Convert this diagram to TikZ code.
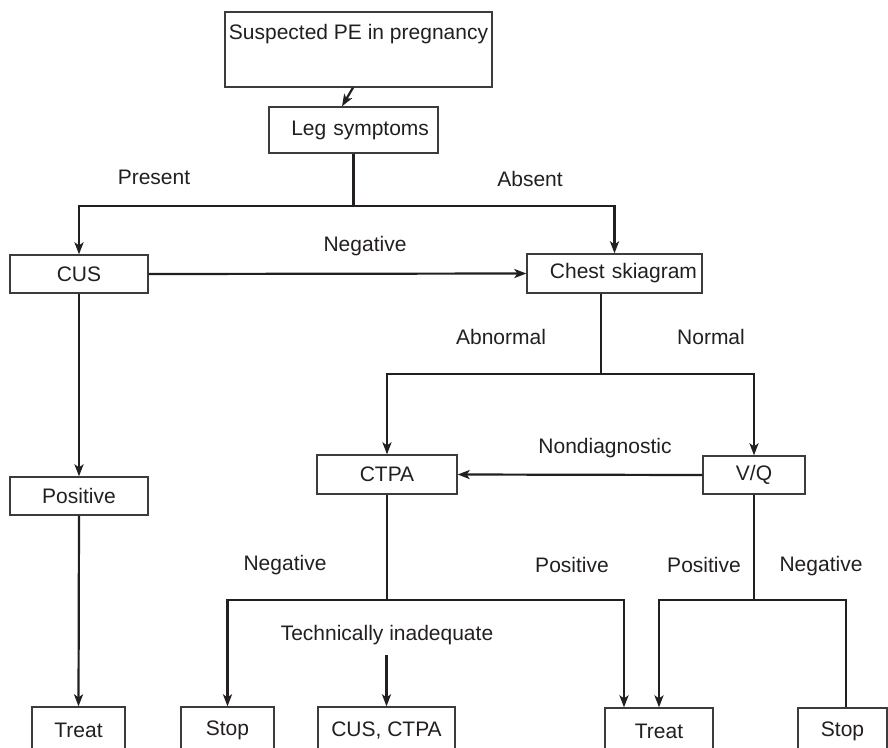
\documentclass[tikz,border=0pt]{standalone}
\usepackage{fontspec}
\setmainfont{Liberation Sans}
\usetikzlibrary{arrows.meta}
\definecolor{Ink}{RGB}{35,31,32}
\definecolor{Edge}{RGB}{60,60,60}

\begin{document}
\begin{tikzpicture}[x=1pt,y=-1pt,line cap=butt,line join=miter,
  box/.style={draw=Edge,line width=1.3pt,inner sep=0pt,text=Ink,font=\fontsize{21}{25}\selectfont},
  lbl/.style={inner sep=0pt,text=Ink,font=\fontsize{21}{25}\selectfont},
  link/.style={draw=Ink,line width=2.2pt},
  arr/.style={link,-{Stealth[length=12pt,width=9pt,inset=3pt]}}]
\useasboundingbox (0,0) rectangle (888,747);
\clip (0,0) rectangle (888,747);
\node[box,minimum width=267pt,text height=27pt,text depth=48pt] (suspect) at (358.5,49.5) {Suspected PE in pregnancy};
\node[box,minimum width=169pt,minimum height=46pt,text width=151pt,inner xsep=9pt,align=right] (leg) at (353.5,130) {Leg symptoms};
\node[box,minimum width=138pt,minimum height=38pt] (cus) at (79,274) {CUS};
\node[box,minimum width=175pt,minimum height=39pt,text width=165pt,inner xsep=5pt,align=right] (chest) at (614.5,273.5) {Chest skiagram};
\node[box,minimum width=140pt,minimum height=39pt] (ctpa) at (387,474.5) {CTPA};
\node[box,minimum width=102pt,minimum height=38pt] (vq) at (754,475) {V/Q};
\node[box,minimum width=138pt,minimum height=38pt] (pos) at (79,496) {Positive};
\node[box,minimum width=93pt,minimum height=46pt] (treatA) at (78.5,730) {Treat};
\node[box,minimum width=93pt,minimum height=46pt] (stopA) at (227.5,730) {Stop};
\node[box,minimum width=137pt,minimum height=46pt] (repeat) at (386.5,730) {CUS, CTPA};
\node[box,minimum width=108pt,minimum height=46pt] (treatB) at (659,731) {Treat};
\node[box,minimum width=89pt,minimum height=46pt] (stopB) at (842.5,731) {Stop};
\coordinate (splitLeg) at (353.5,206);
\coordinate (splitChest) at (601,374);
\coordinate (splitCtpa) at (387,600);
\coordinate (splitVq) at (754,600);
\coordinate (techTop) at (386.5,655);
\node[lbl] (present) at (154,177) {Present};
\node[lbl] (absent) at (530,179) {Absent};
\node[lbl] (negCus) at (365,246) {Negative};
\node[lbl] (abnormal) at (501,337) {Abnormal};
\node[lbl] (normal) at (711,337) {Normal};
\node[lbl] (nondiag) at (605,448) {Nondiagnostic};
\node[lbl] (negCtpa) at (285,565) {Negative};
\node[lbl] (posCtpa) at (572,565) {Positive};
\node[lbl] (posVq) at (704,565) {Positive};
\node[lbl] (negVq) at (821,566) {Negative};
\node[lbl] (tech) at (387,635) {Technically inadequate};
\draw[arr] ([xshift=-5.5pt]suspect.south) -- ([xshift=-11.5pt]leg.north);
\draw[link] (leg.south) -- (splitLeg);
\draw[arr] (splitLeg) -| (cus.north);
\draw[arr] (splitLeg) -| (chest.north);
\draw[arr] (cus.east) -- (chest.west);
\draw[arr] (cus.south) -- (pos.north);
\draw[arr] (pos.south) -- (treatA.north);
\draw[link] ([xshift=-13.5pt]chest.south) -- (splitChest);
\draw[arr] (splitChest) -| (ctpa.north);
\draw[arr] (splitChest) -| (vq.north);
\draw[arr] (vq.west) -- (ctpa.east);
\draw[link] (ctpa.south) -- (splitCtpa);
\draw[arr] (splitCtpa) -| (stopA.north);
\draw[arr] (splitCtpa) -| ([xshift=-35pt]treatB.north);
\draw[arr] (techTop) -- (repeat.north);
\draw[link] (vq.south) -- (splitVq);
\draw[arr] (splitVq) -| (treatB.north);
\draw[link] (splitVq) -| ([xshift=3.5pt]stopB.north);
\end{tikzpicture}
\end{document}
